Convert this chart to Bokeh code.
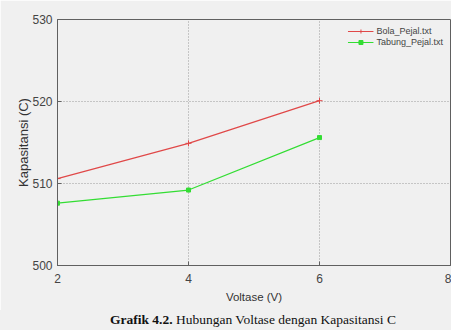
from bokeh.plotting import figure
from bokeh.models import (Range1d, FixedTicker, Legend, LegendItem, Div)
from bokeh.layouts import column
from bokeh.embed import file_html
from bokeh.resources import INLINE

voltase = [2, 4, 6]
bola_pejal = [510.6, 514.9, 520.1]
tabung_pejal = [507.6, 509.2, 515.6]
x_ticks = [2, 4, 6, 8]
y_ticks = [500, 510, 520, 530]
caption_bold = "Grafik 4.2."
caption_text = "Hubungan Voltase dengan Kapasitansi C"

BG = "#f0f0f0"
p = figure(width=451, height=310, output_backend="svg", toolbar_location=None,
           x_range=Range1d(2, 8), y_range=Range1d(500, 530),
           min_border_left=57, min_border_right=1, min_border_top=19, min_border_bottom=45)
p.background_fill_color = BG
p.border_fill_color = BG
p.outline_line_color = "#606060"
p.outline_line_width = 1

for ax in (p.xaxis[0], p.yaxis[0]):
    ax.major_tick_in = 4
    ax.major_tick_out = 0
    ax.minor_tick_line_color = None
    ax.axis_line_color = "#606060"
    ax.major_tick_line_color = "#606060"
    ax.major_label_text_font = "Liberation Sans"
    ax.major_label_text_font_size = "12px"
    ax.major_label_text_color = "#444444"
    ax.axis_label_text_font = "Liberation Sans"
    ax.axis_label_text_font_style = "normal"
    ax.axis_label_text_color = "#333333"

p.xaxis.axis_label_text_font_size = "11.5px"
p.yaxis.axis_label_text_font_size = "13px"
p.xaxis.ticker = FixedTicker(ticks=x_ticks)
p.yaxis.ticker = FixedTicker(ticks=y_ticks)
p.xaxis.axis_label = "Voltase (V)"
p.yaxis.axis_label = "Kapasitansi (C)"
p.xaxis.major_label_standoff = 8
p.yaxis.major_label_standoff = 5
p.xaxis.axis_label_standoff = 5
p.yaxis.axis_label_standoff = -2

p.xgrid.ticker = FixedTicker(ticks=x_ticks)
p.ygrid.ticker = FixedTicker(ticks=y_ticks)
for g in (p.xgrid[0], p.ygrid[0]):
    g.grid_line_color = "#9a9a9a"
    g.grid_line_dash = "1 2"
    g.grid_line_width = 1

r1 = p.line(voltase, bola_pejal, line_color="#e04848", line_width=1.2)
m1 = p.scatter(voltase, bola_pejal, marker="cross", size=6, line_color="#e04848", line_width=1)
r2 = p.line(voltase, tabung_pejal, line_color="#33dd33", line_width=1.2)
m2 = p.scatter(voltase, tabung_pejal, marker="square", size=4, fill_color="#33dd33", line_color="#33dd33")

legend = Legend(items=[LegendItem(label="Bola_Pejal.txt", renderers=[r1, m1]),
                       LegendItem(label="Tabung_Pejal.txt", renderers=[r2, m2])],
                location="top_right", background_fill_alpha=0, border_line_color=None,
                label_text_font="Liberation Sans", label_text_font_size="9px",
                label_text_color="#444444", glyph_width=26, glyph_height=10,
                label_height=10, spacing=1, padding=3, margin=7, label_standoff=3)
p.add_layout(legend)

cap = Div(text=f"<b>{caption_bold}</b> {caption_text}", width=451, height=20,
          margin=(0, 0, 0, 0),
          styles={"background-color": BG, "font-family": "Liberation Serif",
                  "font-size": "13.5px", "line-height": "20px", "color": "#111111",
                  "padding-left": "110px", "box-sizing": "border-box", "width": "451px",
                  "height": "20px", "white-space": "nowrap"})

layout = column(p, cap, spacing=0)
open("out.html", "w").write(file_html(layout, INLINE))
